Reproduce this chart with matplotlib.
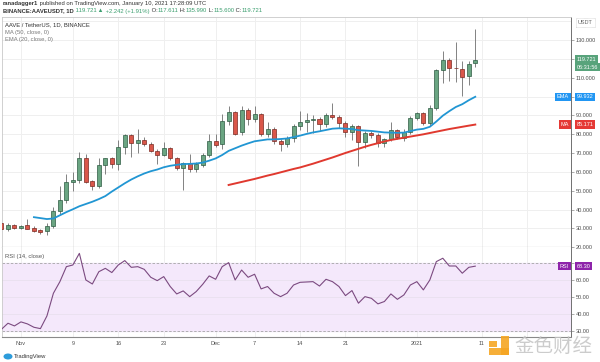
import numpy as np
import pandas as pd
import matplotlib
matplotlib.use('Agg')
import matplotlib.pyplot as plt
import matplotlib.dates as mdates
import matplotlib.transforms as mtransforms
from matplotlib.patches import Rectangle, Ellipse

plt.rcParams['font.family'] = ['Liberation Sans', 'DejaVu Sans']

# daily AAVE/USDT candles, Oct 29 2020 .. Jan 10 2021
dates = pd.date_range('2020-10-29', '2021-01-10', freq='D')
opens = [33.0, 29.9, 32.0, 30.2, 31.7, 30.5, 29.0, 28.5, 31.2, 39.2,
         45.0, 54.5, 55.6, 67.3, 55.0, 52.4, 63.6, 67.2, 64.3, 73.3,
         79.5, 75.6, 76.8, 75.0, 71.0, 69.1, 72.6, 67.3, 62.1, 64.7,
         61.5, 63.6, 69.1, 76.5, 74.8, 87.0, 91.8, 81.0, 93.0, 88.3,
         90.9, 80.4, 83.0, 76.5, 75.0, 78.2, 84.4, 86.7, 87.5, 88.0,
         85.6, 90.4, 89.2, 85.8, 81.4, 84.4, 76.1, 80.7, 79.6, 75.3,
         77.4, 82.3, 77.9, 81.4, 88.6, 91.1, 86.2, 94.1, 114.0, 119.6,
         115.3, 114.8, 110.8, 117.611]
highs = [33.6, 33.0, 32.6, 32.0, 35.1, 31.5, 29.5, 33.0, 41.3, 52.7,
         58.9, 59.8, 70.7, 69.4, 56.0, 67.2, 67.5, 68.0, 76.8, 80.0,
         80.4, 82.6, 78.5, 76.0, 72.0, 75.9, 73.5, 68.0, 65.5, 69.4,
         65.5, 70.0, 80.0, 80.4, 90.6, 94.9, 92.5, 94.9, 94.0, 95.3,
         91.5, 86.5, 84.0, 77.5, 79.0, 85.5, 92.3, 91.1, 90.2, 89.0,
         91.5, 96.4, 90.5, 87.0, 85.5, 85.0, 81.5, 81.5, 80.5, 78.0,
         86.5, 83.0, 83.0, 89.5, 92.0, 92.0, 95.5, 114.5, 124.0, 120.5,
         129.2, 118.7, 118.7, 135.99]
lows = [29.0, 28.7, 29.5, 29.6, 29.5, 28.2, 27.2, 26.3, 30.5, 37.5,
        43.5, 50.1, 54.0, 54.0, 50.6, 51.5, 58.9, 62.0, 61.0, 69.4,
        67.7, 70.3, 74.0, 70.5, 64.5, 68.5, 66.5, 61.0, 50.6, 60.0,
        60.0, 62.5, 68.0, 73.0, 72.1, 85.0, 79.5, 79.5, 84.7, 86.5,
        79.0, 78.5, 75.0, 71.2, 73.0, 76.0, 82.5, 81.0, 80.9, 82.0,
        84.0, 88.0, 83.5, 78.5, 77.0, 63.3, 72.5, 78.0, 73.5, 73.0,
        76.5, 77.5, 76.5, 80.0, 87.5, 85.0, 84.5, 93.0, 107.0, 108.1,
        108.0, 100.2, 106.4, 115.6]
closes = [29.9, 32.0, 30.2, 31.5, 29.9, 28.7, 28.0, 31.2, 39.2, 45.0,
          54.5, 55.6, 67.3, 54.8, 52.4, 63.6, 67.2, 64.3, 73.3, 79.5,
          75.6, 76.8, 75.0, 71.0, 69.1, 72.6, 67.3, 62.1, 64.7, 61.5,
          64.2, 69.1, 76.5, 74.4, 87.0, 91.8, 80.4, 93.0, 88.3, 90.9,
          80.4, 83.0, 76.5, 75.0, 78.2, 84.4, 86.7, 87.5, 87.9, 85.6,
          90.4, 89.2, 85.8, 81.4, 84.4, 76.1, 80.7, 79.6, 75.3, 77.4,
          82.3, 78.8, 81.4, 88.6, 91.1, 86.2, 94.1, 113.9, 119.6, 115.2,
          115.1, 110.4, 117.6, 119.721]

# EMA(20) visible from candle 5, MA(50) from candle 35
ema_start = 5
ema20 = [36.0, 35.5, 35.0, 35.3, 37.0, 38.7, 40.2, 41.8, 43.0, 44.2,
         45.6, 47.2, 49.6, 51.8, 54.0, 56.0, 57.7, 59.2, 60.4, 61.3,
         62.5, 63.3, 63.8, 64.2, 64.3, 64.5, 65.0, 66.0, 67.2, 69.0,
         71.2, 72.6, 74.0, 75.2, 76.3, 76.8, 77.3, 77.3, 77.5, 77.8,
         78.5, 79.3, 80.2, 81.0, 81.6, 82.3, 83.0, 83.2, 83.0, 82.8,
         82.2, 82.0, 81.8, 81.4, 81.0, 80.9, 80.8, 80.9, 81.7, 82.5,
         82.9, 84.0, 86.8, 89.9, 92.3, 94.5, 96.0, 98.1, 99.932]
ma_start = 35
ma50 = [53.1, 53.9, 54.7, 55.5, 56.3, 57.2, 58.1, 58.9, 59.8, 60.7,
        61.6, 62.4, 63.4, 64.4, 65.5, 66.6, 67.7, 68.9, 70.1, 71.2,
        72.3, 73.4, 74.4, 75.3, 76.2, 77.0, 77.6, 78.2, 78.8, 79.4,
        80.0, 80.7, 81.4, 82.1, 82.8, 83.4, 84.0, 84.6, 85.171]
rsi14 = [30.8, 34.4, 32.8, 35.2, 34.0, 32.0, 31.2, 38.7, 52.2, 59.1,
         68.0, 69.0, 75.9, 60.1, 57.7, 65.0, 67.0, 64.5, 69.0, 71.6,
         67.6, 68.0, 66.4, 61.7, 59.7, 62.1, 56.2, 51.8, 53.6, 50.2,
         53.2, 57.5, 62.5, 60.5, 68.0, 70.4, 60.1, 66.0, 61.7, 63.5,
         54.8, 56.2, 52.2, 50.2, 52.2, 57.1, 58.7, 58.9, 59.1, 56.5,
         60.5, 59.1, 56.2, 50.8, 53.8, 46.3, 50.2, 49.2, 45.9, 47.3,
         51.8, 48.6, 51.2, 57.1, 59.1, 54.2, 60.1, 71.0, 73.0, 68.4,
         68.4, 64.1, 67.6, 68.30]

tick_dates = ['2020-11-01', '2020-11-09', '2020-11-16', '2020-11-23', '2020-12-01',
              '2020-12-07', '2020-12-14', '2020-12-21', '2021-01-01', '2021-01-11', '2021-01-18']
tick_labels = ['Nov', '9', '16', '23', 'Dec', '7', '14', '21', '2021', '11', '']
price_ticks = list(range(20, 131, 10))
rsi_ticks = [30, 40, 50, 60, 70]

UP, UP_EDGE = '#6aa582', '#2d5b43'
DN, DN_EDGE = '#d9574a', '#7a2a22'
GRID = '#efefef'

x = mdates.date2num(dates)
o, h, l, c = map(np.array, (opens, highs, lows, closes))

fig = plt.figure(figsize=(6, 3.62), dpi=100)
W, H = 600., 362.
ax = fig.add_axes((2/W, 1-247.3/H, 569/W, (247.3-17)/H))
rax = fig.add_axes((2/W, 1-336.7/H, 569/W, (336.7-247.3)/H), sharex=ax)

# grid
xt = mdates.date2num(pd.to_datetime(tick_dates))
for a in (ax, rax):
    for v in xt:
        a.axvline(v, color=GRID, lw=0.7, zorder=0)
for v in range(20, 141, 10):
    ax.axhline(v, color=GRID, lw=0.7, zorder=0)

# candles
up = c >= o
ax.vlines(x, l, h, color='#6e6e6e', lw=0.6, zorder=2)
body = np.maximum(np.abs(c - o), 0.15)
ax.bar(x[up], body[up], bottom=np.minimum(o, c)[up], width=0.62,
       color=UP, edgecolor=UP_EDGE, linewidth=0.5, zorder=3)
ax.bar(x[~up], body[~up], bottom=np.minimum(o, c)[~up], width=0.62,
       color=DN, edgecolor=DN_EDGE, linewidth=0.5, zorder=3)

ax.plot(x[ema_start:], ema20, color='#2196d3', lw=1.3, zorder=4)
ax.plot(x[ma_start:], ma50, color='#e0392f', lw=1.4, zorder=4)

x0 = x[0]
ax.set_xlim(x0 + 0.08, x0 + 87.75)
ax.set_ylim(20.74, 142.3)
ax.yaxis.tick_right()
ax.set_yticks(price_ticks)
# labels at 100 and 120 sit under the EMA / last-price badges
ax.set_yticklabels(['' if v in (100, 120) else f'{v:.3f}' for v in price_ticks])
ax.tick_params(axis='y', length=2, width=0.5, color='#888888', labelsize=4,
               labelcolor='#4d4d4d', pad=1.5)
ax.tick_params(axis='x', bottom=False, labelbottom=False)
for s in ('left', 'top'):
    ax.spines[s].set_color('#c9c9c9')
    ax.spines[s].set_linewidth(0.6)
ax.spines['right'].set_color('#707070')
ax.spines['right'].set_linewidth(0.7)
ax.spines['bottom'].set_color('#8a8a8a')
ax.spines['bottom'].set_linewidth(0.8)

# legend texts
ax.text(0.006, 0.965, 'AAVE / TetherUS, 1D, BINANCE', transform=ax.transAxes,
        fontsize=4.2, color='#333333', va='center')
ax.text(0.006, 0.933, 'MA (50, close, 0)', transform=ax.transAxes,
        fontsize=4.2, color='#7a7a7a', va='center')
ax.text(0.006, 0.901, 'EMA (20, close, 0)', transform=ax.transAxes,
        fontsize=4.2, color='#7a7a7a', va='center')

# RSI pane
rax.fill_between([x0 - 5, x0 + 95], 30, 70, color='#f4e8fb', zorder=0)
for v in (40, 50, 60):
    rax.axhline(v, color='#e9e0ee', lw=0.6, zorder=1)
for v in (30, 70):
    rax.axhline(v, color='#a5a5a5', lw=0.6, ls=(0, (3, 2)), zorder=1)
rax.plot(x, rsi14, color='#7b4a80', lw=0.8, zorder=3)
rax.set_ylim(26.4, 79.5)
rax.yaxis.tick_right()
rax.set_yticks(rsi_ticks)
rax.set_yticklabels(['' if v == 70 else f'{v:.2f}' for v in rsi_ticks])
rax.tick_params(axis='y', length=2, width=0.5, color='#888888', labelsize=4,
                labelcolor='#4d4d4d', pad=1.5)
rax.set_xticks(xt)
rax.set_xticklabels(tick_labels)
rax.tick_params(axis='x', length=0, labelsize=4, labelcolor='#4d4d4d', pad=3)
rax.spines['top'].set_visible(False)
rax.spines['left'].set_color('#c9c9c9')
rax.spines['left'].set_linewidth(0.6)
rax.spines['right'].set_color('#707070')
rax.spines['right'].set_linewidth(0.7)
rax.spines['bottom'].set_color('#8a8a8a')
rax.spines['bottom'].set_linewidth(0.8)
rax.text(0.006, 0.9, 'RSI (14, close)', transform=rax.transAxes,
         fontsize=4.2, color='#555555', va='center')

# price-scale badges
def badge(a, y, txt, fc, dx=4, dy=0, ha='left'):
    a.annotate(txt, xy=(1.0, y), xycoords=mtransforms.blended_transform_factory(a.transAxes, a.transData),
               xytext=(dx, dy), textcoords='offset points', fontsize=4, color='white',
               ha=ha, va='center', zorder=10, annotation_clip=False,
               bbox=dict(boxstyle='square,pad=0.3', fc=fc, ec='none'))

badge(ax, closes[-1], f'{closes[-1]:.3f}', '#58a37b')
badge(ax, closes[-1], '06:31:56', '#58a37b', dy=-5.6)
badge(ax, ema20[-1], f'{ema20[-1]:.3f}', '#2196f3')
badge(ax, ema20[-1], 'EMA', '#2196f3', dx=-1.5, ha='right')
badge(ax, ma50[-1], f'{ma50[-1]:.3f}', '#e53935')
badge(ax, ma50[-1], 'MA', '#e53935', dx=-1.5, ha='right')
badge(rax, rsi14[-1], f'{rsi14[-1]:.2f}', '#8e24aa')
badge(rax, rsi14[-1], 'RSI', '#8e24aa', dx=-1.5, ha='right')
ax.text(1.012, 0.975, 'USDT', transform=ax.transAxes, fontsize=4, color='#666666',
        va='center', ha='left',
        bbox=dict(boxstyle='square,pad=0.35', fc='white', ec='#bbbbbb', lw=0.4, ls=(0, (1, 1))))

# header
renderer = fig.canvas.get_renderer()

def row(pieces, xf, yf):
    for s, col, wt in pieces:
        t = fig.text(xf, yf, s, fontsize=4.2, color=col, fontweight=wt, va='center')
        xf = t.get_window_extent(renderer=renderer).x1 / fig.bbox.width

G, K = '#3a9e6e', '#333333'
row([('ranadagger1', K, 'bold'),
     (' published on TradingView.com, January 10, 2021 17:28:09 UTC', K, 'normal')],
    3/W, 1 - 4/H)
row([('BINANCE:AAVEUSDT, 1D', K, 'bold'), (' 119.721', G, 'normal'), (' \u25b2', G, 'normal'),
     (' +2.242 (+1.91%)', G, 'normal'), (' O:', K, 'normal'), ('117.611', G, 'normal'),
     (' H:', K, 'normal'), ('135.990', G, 'normal'), (' L:', K, 'normal'),
     ('115.600', G, 'normal'), (' C:', K, 'normal'), ('119.721', G, 'normal')],
    3/W, 1 - 11/H)

# TradingView footer
fig.patches.append(Ellipse((8/W, 1-356.5/H), 9/W, 6/H, transform=fig.transFigure,
                           fc='#2d9cdb', ec='none'))
fig.text(14/W, 1-356.5/H, 'TradingView', fontsize=4.2, color='#333333', va='center')

# 金色财经 watermark
OR = '#f5a623'
for (px, py, pw, ph) in [(501, 336, 8, 19), (489, 348, 20, 7), (489, 341, 8, 6)]:
    fig.patches.append(Rectangle((px/W, 1-(py+ph)/H), pw/W, ph/H, transform=fig.transFigure,
                                 fc=OR, ec='none', alpha=0.9))
fig.text(514/W, 1-346/H, '金色财经', fontsize=14, color='#c4c4c4', va='center',
         family=['Noto Sans CJK SC', 'DejaVu Sans'], alpha=0.85)

fig.savefig('out.png', dpi=100)
